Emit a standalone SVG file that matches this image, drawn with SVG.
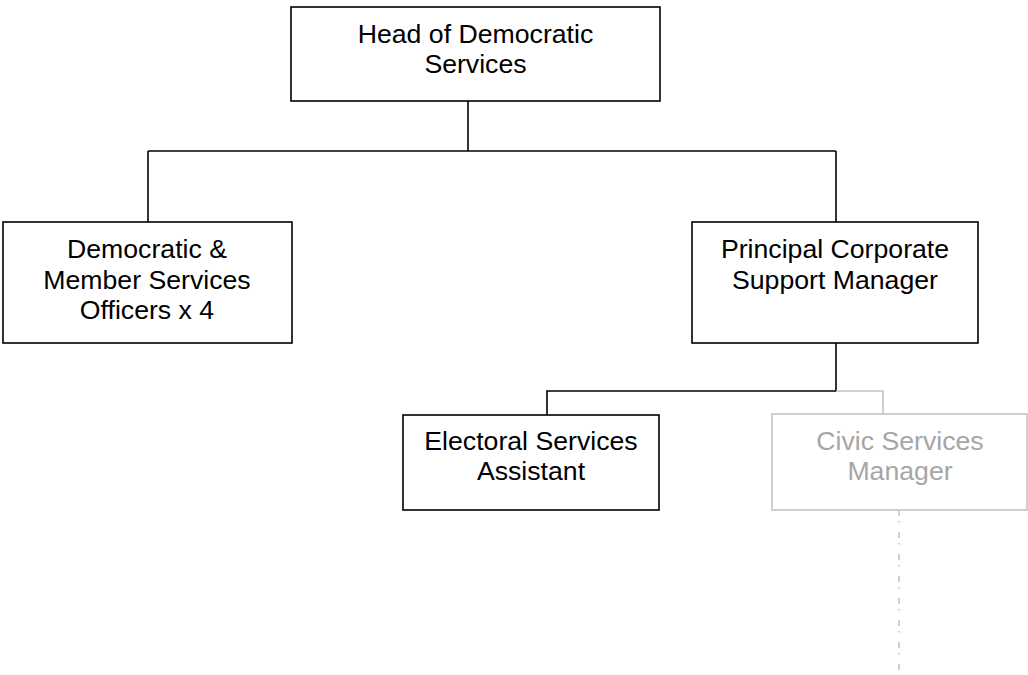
<svg xmlns="http://www.w3.org/2000/svg" width="1028" height="675" viewBox="0 0 1028 675">
<style>
.box{fill:#fff;stroke:#000;stroke-width:1.6}
.gbox{fill:#fff;stroke:#c4c4c4;stroke-width:1.6}
.t{font-family:"Liberation Sans",Arial,sans-serif;font-size:26.67px;fill:#000;text-anchor:middle}
.gt{fill:#a6a6a6}
.ln{fill:none;stroke:#000;stroke-width:1.6}
.gln{fill:none;stroke:#c4c4c4;stroke-width:1.6}
</style>
<rect width="1028" height="675" fill="#fff"/>
<g id="connectors">
<path class="ln" d="M468 101 V151 M148 151 H836 M148 151 V222 M836 151 V222"/>
<path class="ln" d="M836 343 V391 H547 V415"/>
<path class="gln" d="M836 391 H883 V414"/>
<path class="gln" d="M899 510 V675" stroke-dasharray="6 5 1.5 9.5"/>
</g>
<g id="head">
<rect class="box" x="291" y="7" width="369" height="94"/>
<text class="t" x="475.5" y="43">Head of Democratic</text>
<text class="t" x="475.5" y="73">Services</text>
</g>
<g id="democratic">
<rect class="box" x="3" y="222" width="289" height="121"/>
<text class="t" x="147" y="258">Democratic &amp;</text>
<text class="t" x="147" y="288.5">Member Services</text>
<text class="t" x="147" y="319">Officers x 4</text>
</g>
<g id="principal">
<rect class="box" x="692" y="222" width="286" height="121"/>
<text class="t" x="835" y="258">Principal Corporate</text>
<text class="t" x="835" y="288.5">Support Manager</text>
</g>
<g id="electoral">
<rect class="box" x="403" y="415" width="256" height="95"/>
<text class="t" x="531" y="450">Electoral Services</text>
<text class="t" x="531" y="480">Assistant</text>
</g>
<g id="civic">
<rect class="gbox" x="772" y="414" width="255" height="96"/>
<text class="t gt" x="900" y="450">Civic Services</text>
<text class="t gt" x="900" y="480">Manager</text>
</g>
</svg>
